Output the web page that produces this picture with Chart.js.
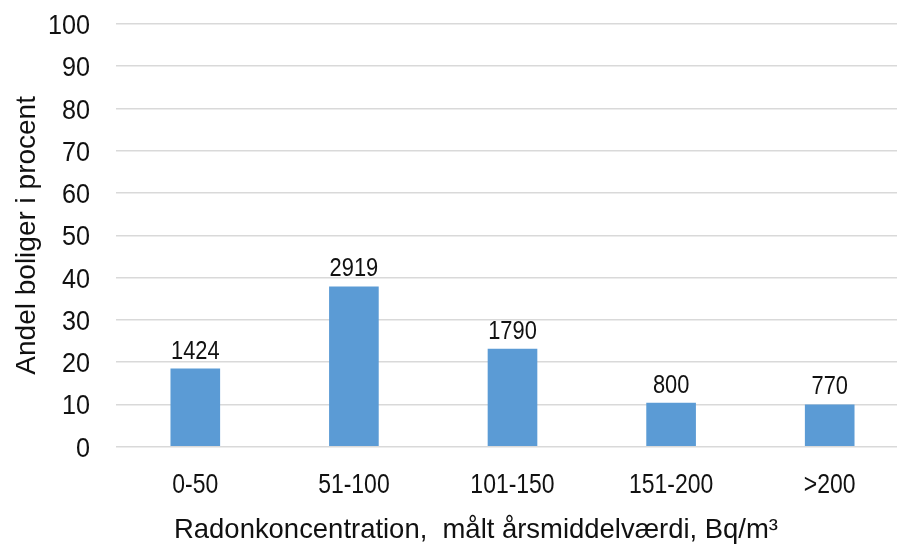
<!DOCTYPE html>
<html>
<head>
<meta charset="utf-8">
<script src="https://cdn.jsdelivr.net/npm/chart.js@4.4.1/dist/chart.umd.min.js"></script>
<style>
  html, body { margin: 0; padding: 0; background: #fff; overflow: hidden; }
  #wrap { width: 912px; height: 547px; position: relative; }
</style>
</head>
<body>
<div id="wrap"><canvas id="c"></canvas></div>
<script>
// Radon concentration classes (annual mean, Bq/m3)
const categories = ['0-50', '51-100', '101-150', '151-200', '>200'];
// Number of dwellings in each class (printed above the bars)
const dwellingCounts = [1424, 2919, 1790, 800, 770];
// Share of dwellings in percent (bar heights)
const sharePercent = [18.5, 37.9, 23.2, 10.4, 10.0];
// Y axis ticks
const yTicks = [0, 10, 20, 30, 40, 50, 60, 70, 80, 90, 100];

const yTitle = 'Andel boliger i procent';
const xTitle = 'Radonkoncentration,  målt årsmiddelværdi, Bq/m³';

const FONT = "'Liberation Sans', Arial, sans-serif";
const TEXT = '#111111';

// Draws a string with a horizontal squeeze factor (condensed look)
function drawText(ctx, text, x, y, size, sx, align, baseline) {
  ctx.save();
  ctx.translate(x, y);
  ctx.scale(sx, 1);
  ctx.font = size + 'px ' + FONT;
  ctx.textAlign = align;
  ctx.textBaseline = baseline;
  ctx.fillStyle = TEXT;
  ctx.fillText(text, 0, 0);
  ctx.restore();
}

const labelsPlugin = {
  id: 'labelsPlugin',
  afterDraw(chart) {
    const ctx = chart.ctx;
    const xs = chart.scales.x;
    const ys = chart.scales.y;
    const area = chart.chartArea;

    // y tick labels
    yTicks.forEach(v => {
      drawText(ctx, String(v), 90, ys.getPixelForValue(v) + 10, 28, 0.9, 'right', 'alphabetic');
    });

    // category labels
    categories.forEach((c, i) => {
      drawText(ctx, c, xs.getPixelForValue(i), 493, 28, 0.82, 'center', 'alphabetic');
    });

    // counts above bars
    const meta = chart.getDatasetMeta(0);
    meta.data.forEach((bar, i) => {
      drawText(ctx, String(dwellingCounts[i]), bar.x, bar.y - 10, 26, 0.84, 'center', 'alphabetic');
    });

    // x-axis title
    drawText(ctx, xTitle, 476, 538, 28, 0.98, 'center', 'alphabetic');

    // y-axis title (rotated)
    ctx.save();
    ctx.translate(35, (area.top + area.bottom) / 2);
    ctx.rotate(-Math.PI / 2);
    drawText(ctx, yTitle, 0, 0, 28, 1.0, 'center', 'alphabetic');
    ctx.restore();
  }
};

new Chart(document.getElementById('c'), {
  type: 'bar',
  data: {
    labels: categories,
    datasets: [{
      data: sharePercent,
      backgroundColor: '#5b9bd5',
      borderWidth: 0,
      barPercentage: 0.313,
      categoryPercentage: 1.0
    }]
  },
  options: {
    responsive: true,
    maintainAspectRatio: false,
    animation: false,
    layout: { padding: { left: 0, right: 3, top: 24, bottom: 0 } },
    plugins: {
      legend: { display: false },
      tooltip: { enabled: false }
    },
    scales: {
      x: {
        grid: { display: false, drawTicks: false },
        border: { display: false },
        ticks: { display: false },
        afterFit(scale) {
          scale.height = 547 - 446.7;
          scale.paddingLeft = 0;
          scale.paddingRight = 0;
        }
      },
      y: {
        min: 0,
        max: 100,
        afterBuildTicks(scale) { scale.ticks = yTicks.map(v => ({ value: v })); },
        grid: { color: '#d9d9d9', lineWidth: 1.6, drawTicks: false },
        border: { display: false },
        ticks: { display: false },
        afterFit(scale) {
          scale.width = 116;
          scale.paddingTop = 0;
          scale.paddingBottom = 0;
        }
      }
    }
  },
  plugins: [labelsPlugin]
});
</script>
</body>
</html>
